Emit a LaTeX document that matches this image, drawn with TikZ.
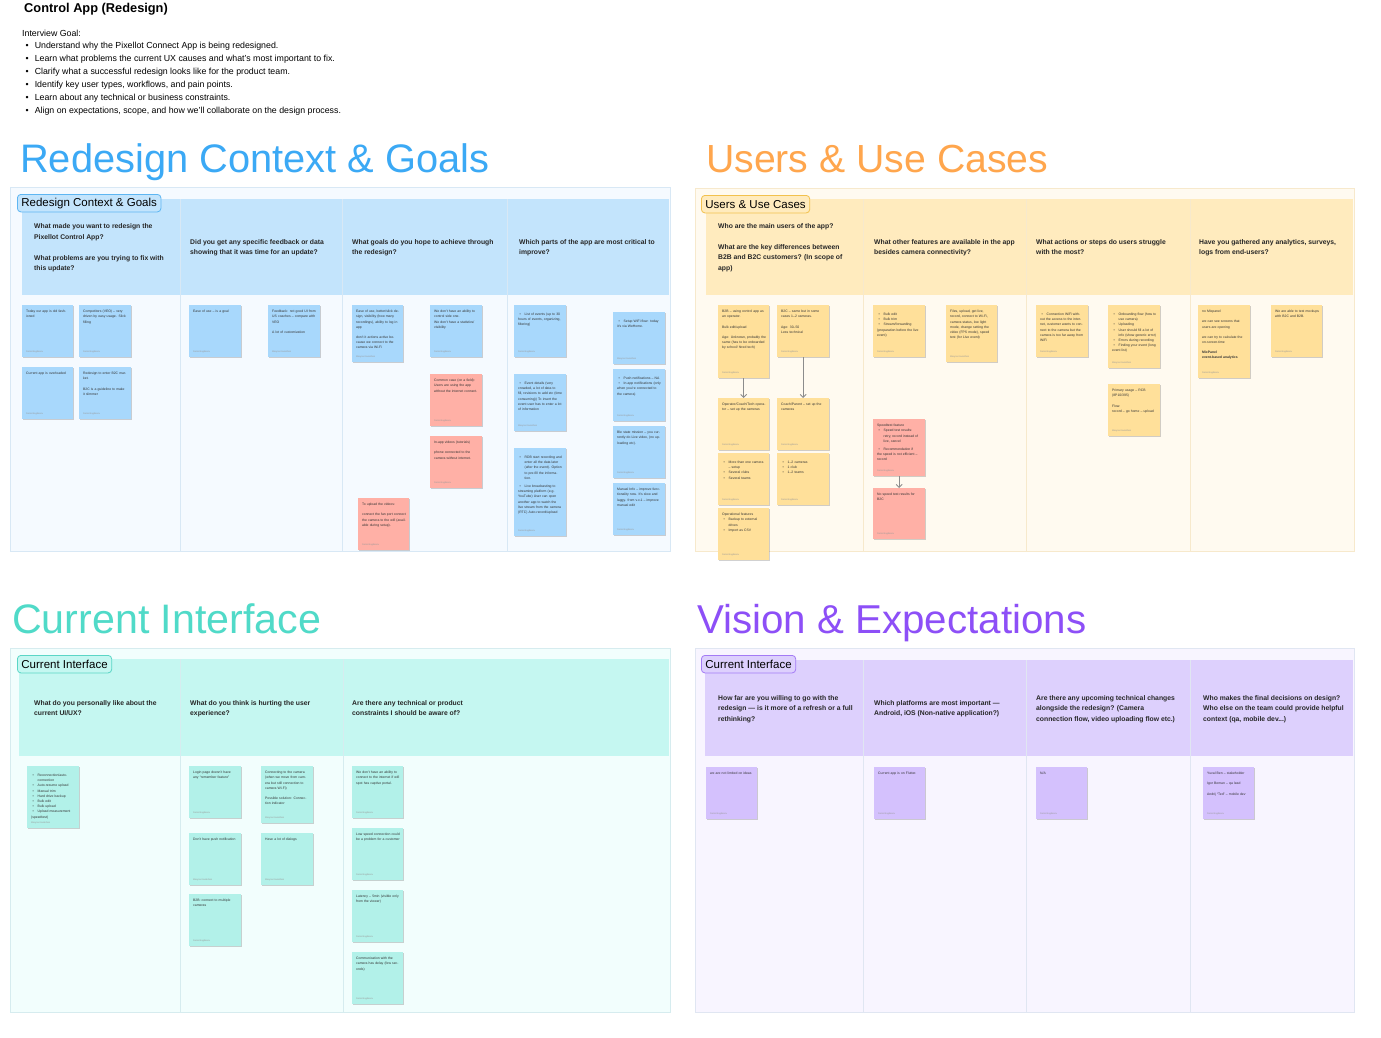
\documentclass[tikz,border=0pt]{standalone}
\usepackage{fontspec}
\setmainfont{Liberation Sans}
\usetikzlibrary{arrows.meta,shadows}
\definecolor{bA}{HTML}{F5FAFF}\definecolor{hA}{HTML}{C3E4FC}\definecolor{nA}{HTML}{A8D8FC}\definecolor{tA}{HTML}{3BA9F5}\definecolor{kA}{HTML}{5EB6F2}\definecolor{lA}{HTML}{D8E8F5}
\definecolor{bB}{HTML}{FFFAF0}\definecolor{hB}{HTML}{FFEBBE}\definecolor{nB}{HTML}{FFE09A}\definecolor{tB}{HTML}{FFA64D}\definecolor{kB}{HTML}{F2C14E}\definecolor{lB}{HTML}{F7E9CC}
\definecolor{bC}{HTML}{F2FEFD}\definecolor{hC}{HTML}{C5F7F1}\definecolor{nC}{HTML}{B2F1E9}\definecolor{tC}{HTML}{50DAC8}\definecolor{kC}{HTML}{5BD6C6}\definecolor{lC}{HTML}{D6ECEF}
\definecolor{bD}{HTML}{F8F5FF}\definecolor{hD}{HTML}{DDD0FD}\definecolor{nD}{HTML}{D4C1FD}\definecolor{tD}{HTML}{8D4FF7}\definecolor{kD}{HTML}{A47BF5}\definecolor{lD}{HTML}{E0E6F2}
\definecolor{rN}{HTML}{FFB0A6}
\newcommand\bulit{\par\noindent\hangindent=6.5pt\hangafter=1\makebox[6.5pt][l]{\hspace{1.5pt}\textbullet}}
\newcommand\stk[8]{%
 \node[stk,fill=#6,minimum width=#4,minimum height=#5,anchor=north west] (#1) at (#2,#3) {};
 \node[stktxt] (#1t) at ([xshift=4pt,yshift=-5pt]#1.north west) {#7};
 \node[stkauth] (#1a) at ([xshift=4pt,yshift=4pt]#1.south west) {#8};}
\begin{document}
\begin{tikzpicture}[x=1pt,y=-1pt,
 qtxt/.style={anchor=base west,inner sep=0,align=left,font=\fontsize{6.8}{10.6}\selectfont\bfseries,text=black!85},
 ttl/.style={anchor=base west,inner sep=0},
 tag/.style={anchor=north west,rounded corners=3.5pt,line width=0.8pt,inner xsep=4pt,inner ysep=0pt,minimum height=17.5pt,font=\fontsize{11.5}{12}\selectfont},
 stk/.style={rectangle,inner sep=0,drop shadow={shadow xshift=0.3pt,shadow yshift=-0.8pt,opacity=0.18,fill=black}},
 stktxt/.style={anchor=north west,inner sep=0,text width=44pt,align=left,font=\fontsize{3.4}{5.2}\selectfont,text=black!80},
 stkauth/.style={anchor=south west,inner sep=0,font=\fontsize{2.3}{3}\selectfont,text=black!40},
 arr/.style={draw=black!45,line width=0.9pt,-{Straight Barb[length=3pt,width=6pt]}}]
\useasboundingbox (0,0) rectangle (1381,1037);
\fill[white] (0,0) rectangle (1381,1037);
% ---------- header (base anchor of a multi-line node = its last baseline)
\node[anchor=base west,inner sep=0,font=\fontsize{12.8}{14}\selectfont\bfseries] (title) at (24,12.8) {Control App (Redesign)};
\node[anchor=base west,inner sep=0,font=\fontsize{8.8}{10}\selectfont] (goalhd) at (22,36.2) {Interview Goal:};
\node[anchor=base west,inner sep=0,align=left,font=\fontsize{8.8}{13}\selectfont] (goals) at (25.5,113.5) {%
\textbullet\hspace{6pt}Understand why the Pixellot Connect App is being redesigned.\\
\textbullet\hspace{6pt}Learn what problems the current UX causes and what’s most important to fix.\\
\textbullet\hspace{6pt}Clarify what a successful redesign looks like for the product team.\\
\textbullet\hspace{6pt}Identify key user types, workflows, and pain points.\\
\textbullet\hspace{6pt}Learn about any technical or business constraints.\\
\textbullet\hspace{6pt}Align on expectations, scope, and how we’ll collaborate on the design process.};
% ---------- titles
\node[ttl,text=tA,font=\fontsize{39.8}{42}\selectfont] (ttlA) at (20,172) {Redesign Context \& Goals};
\node[ttl,text=tB,font=\fontsize{39.2}{42}\selectfont] (ttlB) at (706,172) {Users \& Use Cases};
\node[ttl,text=tC,font=\fontsize{41.2}{42}\selectfont] (ttlC) at (12,633) {Current Interface};
\node[ttl,text=tD,font=\fontsize{40.3}{42}\selectfont] (ttlD) at (697,633) {Vision \& Expectations};
% ---------- boards
\filldraw[fill=bA,draw=lA,line width=0.5pt] (10,187) rectangle (670,551);
\fill[hA] (22,199) rectangle (669,295);
\foreach \x in {180,342,507} \draw[lA,line width=0.6pt] (\x,199) -- (\x,551);
\filldraw[fill=bB,draw=lB,line width=0.5pt] (695,188) rectangle (1354,551);
\fill[hB] (706,199) rectangle (1353,295);
\foreach \x in {863,1026,1190} \draw[lB,line width=0.6pt] (\x,199) -- (\x,551);
\filldraw[fill=bC,draw=lC,line width=0.5pt] (10,648) rectangle (670,1012);
\fill[hC] (19,659) rectangle (669,756);
\foreach \x in {180,343} \draw[lC,line width=0.6pt] (\x,659) -- (\x,1012);
\filldraw[fill=bD,draw=lD,line width=0.5pt] (695,648) rectangle (1354,1012);
\fill[hD] (705,660) rectangle (1353,756);
\foreach \x in {863,1026,1190} \draw[lD,line width=0.6pt] (\x,660) -- (\x,1012);
% ---------- tags
\node[tag,draw=kA,fill=hA] (tagA) at (17,194) {Redesign Context \& Goals};
\node[tag,draw=kB,fill=hB] (tagB) at (701,195) {Users \& Use Cases};
\node[tag,draw=kC,fill=hC] (tagC) at (17,655) {Current Interface};
\node[tag,draw=kD,fill=hD] (tagD) at (701,655) {Current Interface};
% ---------- questions
\node[qtxt] (qA1) at (34,270.9) {What made you want to redesign the\\Pixellot Control App?\\[10.6pt]What problems are you trying to fix with\\this update?};
\node[qtxt] (qA2) at (190,254.8) {Did you get any specific feedback or data\\showing that it was time for an update?};
\node[qtxt] (qA3) at (352,254.8) {What goals do you hope to achieve through\\the redesign?};
\node[qtxt] (qA4) at (519,254.8) {Which parts of the app are most critical to\\improve?};
\node[qtxt] (qB1) at (718,270.4) {Who are the main users of the app?\\[10.2pt]What are the key differences between\\B2B and B2C customers? (In scope of\\app)};
\node[qtxt] (qB2) at (874,254.8) {What other features are available in the app\\besides camera connectivity?};
\node[qtxt] (qB3) at (1036,254.8) {What actions or steps do users struggle\\with the most?};
\node[qtxt] (qB4) at (1199,254.8) {Have you gathered any analytics, surveys,\\logs from end-users?};
\node[qtxt] (qC1) at (34,715.8) {What do you personally like about the\\current UI/UX?};
\node[qtxt] (qC2) at (190,715.8) {What do you think is hurting the user\\experience?};
\node[qtxt] (qC3) at (352,715.8) {Are there any technical or product\\constraints I should be aware of?};
\node[qtxt] (qD1) at (718,721.4) {How far are you willing to go with the\\redesign — is it more of a refresh or a full\\rethinking?};
\node[qtxt] (qD2) at (874,715.8) {Which platforms are most important —\\Android, iOS (Non-native application?)};
\node[qtxt] (qD3) at (1036,721.4) {Are there any upcoming technical changes\\alongside the redesign? (Camera\\connection flow, video uploading flow etc.)};
\node[qtxt] (qD4) at (1203,721.4) {Who makes the final decisions on design?\\Who else on the team could provide helpful\\context (qa, mobile dev...)};
% ---------- section 1 notes
\stk{A1}{22}{305}{51}{52}{nA}{Today our app is old fashioned}{Denis Bogdanov}
\stk{A2}{79}{305}{52}{52}{nA}{Competitors (VEO) – very driven by easy usage. Slick filling}{Denis Bogdanov}
\stk{A3}{22}{367}{51}{52}{nA}{Current app is overloaded}{Denis Bogdanov}
\stk{A4}{79}{367}{52}{52}{nA}{Redesign to enter B2C market.\\[5pt]B2C is a guideline to make it slimmer}{Denis Bogdanov}
\stk{B1}{189}{305}{52}{52}{nA}{Ease of use – is a goal}{Denis Bogdanov}
\stk{B2}{268}{305}{52}{52}{nA}{Feedback: not good UI from US coaches – compare with VEO\\[5pt]A lot of customization}{Maryna Kovalchuk}
\stk{C1}{352}{305}{51}{57}{nA}{Ease of use, better/slick design, visibility (how many recordings), ability to log in app\\[5pt]don't it actions active because we connect to the camera via Wi-Fi}{Maryna Kovalchuk}
\stk{C2}{430}{305}{52}{52}{nA}{We don't have an ability to control side one.\\We don't have a statistics/ visibility}{Denis Bogdanov}
\stk{C3}{430}{374}{52}{52}{rN}{Common case (on a field): Users are using the app without the internet connect.}{Denis Bogdanov}
\stk{C4}{430}{436}{52}{52}{rN}{In-app videos (tutorials)\\[5pt]phone connected to the camera without internet.}{Denis Bogdanov}
\stk{C5}{358}{498}{51}{52}{rN}{To upload the videos:\\[5pt]connect the fan port connect the camera to the wifi (available during setup).}{Denis Bogdanov}
\stk{D1}{514}{305}{52}{52}{nA}{\bulit List of events (up to 30 hours of events, organizing, filtering)}{Denis Bogdanov}
\stk{D2}{613}{312}{52}{52}{nA}{\bulit Setup WiFi flow: today it's via WeHome.}{Maryna Kovalchuk}
\stk{D3}{514}{374}{52}{57}{nA}{\bulit Event details (very crowded, a lot of data to fill, revisions to add etc (time consuming)) To insert the event user has to enter a lot of information}{Maryna Kovalchuk}
\stk{D4}{613}{369}{52}{52}{nA}{\bulit Push notifications – NA\bulit In-app notifications (only when you're connected to the camera)}{Denis Bogdanov}
\stk{D5}{613}{426}{52}{52}{nA}{Ble state mission – you currently do Live video, (no uploading etc).}{Denis Bogdanov}
\stk{D6}{514}{448}{52}{88}{nA}{\bulit RDB start recording and enter all the data later (after the event). Option to pre-fill the information.\par\vspace{3pt}\bulit Live broadcasting to streaming platform (e.g. YouTube) User can open another app to watch the live stream from the camera (RTC) Auto-record/upload}{Denis Bogdanov}
\stk{D7}{613}{483}{52}{52}{nA}{Manual Info – improve functionality now. It's slow and laggy. from v.x.1 – improve manual edit}{Denis Bogdanov}
% ---------- section 2 notes
\stk{E1}{718}{305}{51}{73}{nB}{B2B – using control app as an operator.\\[5pt]Bulk edit/upload\\[5pt]Age: Unknown, probably the same (has to be onboarded by school/ hired tech)}{Denis Bogdanov}
\stk{E2}{777}{305}{52}{52}{nB}{B2C – same but in some cases 1–2 cameras.\\[5pt]Age: 30–50\\Less technical}{Denis Bogdanov}
\stk{E3}{718}{398}{51}{52}{nB}{Operator/Coach/Tech operator – set up the cameras}{Denis Bogdanov}
\stk{E4}{777}{398}{52}{52}{nB}{Coach/Parent – set up the cameras}{Denis Bogdanov}
\stk{E5}{718}{453}{51}{52}{nB}{\bulit More than one camera – setup\bulit Several clubs\bulit Several teams}{Denis Bogdanov}
\stk{E6}{777}{453}{52}{52}{nB}{\bulit 1–2 cameras\bulit 1 club\bulit 1–2 teams}{Denis Bogdanov}
\stk{E7}{718}{508}{51}{52}{nB}{Operational features\bulit Backup to external drives\bulit Import as CSV}{Denis Bogdanov}
\stk{F1}{873}{305}{52}{52}{nB}{\bulit Bulk edit\bulit Bulk trim\bulit Stream/forwarding (preparation before the live event)}{Denis Bogdanov}
\stk{F2}{946}{305}{51}{57}{nB}{Files, upload, get live, record, connect to Wi-Fi, camera status, low light mode, change setting the video (FPS mode), speed test (for Live event)}{Maryna Kovalchuk}
\stk{F3}{873}{419}{52}{57}{rN}{Speedtest feature\bulit Speed test results: retry, record instead of live, cancel\par\vspace{3pt}\bulit Recommendation if the speed is not efficient – record}{Denis Bogdanov}
\stk{F4}{873}{488}{52}{51}{rN}{No speed test results for B2C}{Denis Bogdanov}
\stk{G1}{1036}{305}{52}{52}{nB}{\bulit Connection WiFi without the access to the internet, customer wants to connect to the camera but the camera is too far away from WiFi}{Denis Bogdanov}
\stk{G2}{1108}{305}{52}{63}{nB}{\bulit Onboarding flow (how to use camera)\bulit Uploading\bulit User should fill a lot of info (show generic error)\bulit Errors during recording\bulit Finding your event (long event list)}{Maryna Kovalchuk}
\stk{G3}{1108}{384}{52}{52}{nB}{Primary usage – RCB (8P10/395)\\[5pt]Flow:\\record – go home – upload}{Maryna Kovalchuk}
\stk{H1}{1198}{305}{52}{73}{nB}{no Mixpanel\\[5pt]we can see screens that users are opening\\[5pt]we can try to calculate the on-screen-time\\[5pt]\textbf{MixPanel}\\\textbf{event-based analytics}}{Denis Bogdanov}
\stk{H2}{1271}{305}{51}{52}{nB}{We are able to test mockups with B2C and B2B.}{Denis Bogdanov}
\draw[arr] (E1.south) -- (E3.north);
\draw[arr] (E2.south) -- (E4.north);
\draw[arr] (F3.south) -- (F4.north);
% ---------- section 3 notes
\stk{I1}{27}{766}{52}{62}{nC}{\bulit Reconnection/auto-connection\bulit Auto-resume upload\bulit Manual trim\bulit Hard drive backup\bulit Bulk edit\bulit Bulk upload\bulit Upload measurement (speedtest)}{Maryna Kovalchuk}
\stk{J1}{189}{766}{52}{52}{nC}{Login page doesn't have any ``remember feature''}{Denis Bogdanov}
\stk{J2}{261}{766}{52}{57}{nC}{Connecting to the camera (when we move from camera but still connection to camera Wi-Fi)\\[5pt]Possible solution: Connection indicator}{Maryna Kovalchuk}
\stk{J3}{189}{833}{52}{52}{nC}{Don't have push notification}{Maryna Kovalchuk}
\stk{J4}{261}{833}{52}{52}{nC}{Have a lot of dialogs}{Maryna Kovalchuk}
\stk{J5}{189}{894}{52}{52}{nC}{B2B: connect to multiple cameras}{Denis Bogdanov}
\stk{K1}{352}{766}{51}{52}{nC}{We don't have an ability to connect to the internet if wifi spot has captive portal.}{Denis Bogdanov}
\stk{K2}{352}{828}{51}{52}{nC}{Low speed connection could be a problem for a customer}{Denis Bogdanov}
\stk{K3}{352}{890}{51}{52}{nC}{Latency – 5min (visible only from the viewer)}{Denis Bogdanov}
\stk{K4}{352}{952}{51}{52}{nC}{Communication with the camera has delay (few seconds)}{Denis Bogdanov}
% ---------- section 4 notes
\stk{L1}{706}{767}{51}{52}{nD}{we are not limited on ideas}{Denis Bogdanov}
\stk{L2}{874}{767}{51}{52}{nD}{Current app is on Flutter.}{Denis Bogdanov}
\stk{L3}{1036}{767}{51}{52}{nD}{N/A}{Denis Bogdanov}
\stk{L4}{1203}{767}{51}{52}{nD}{Yuval Ben – stakeholder\\[5pt]Igor Beman – qa lead\\[5pt]Andrij ``Ted'' – mobile dev}{Denis Bogdanov}
\end{tikzpicture}
\end{document}
